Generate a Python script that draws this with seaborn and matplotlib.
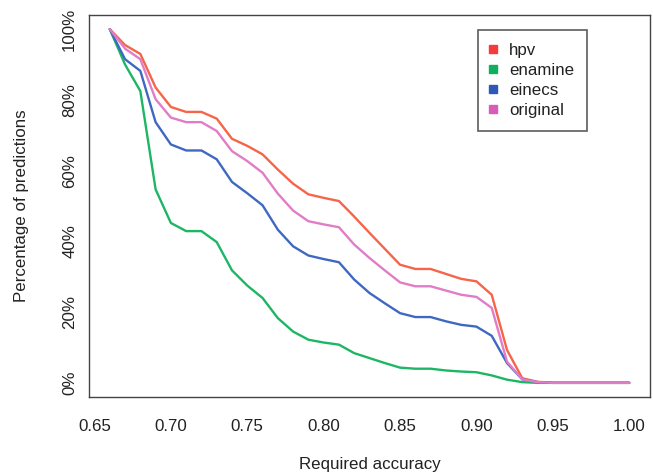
import matplotlib
matplotlib.use("Agg")
import matplotlib.pyplot as plt
from matplotlib.lines import Line2D
from matplotlib.ticker import PercentFormatter, FormatStrFormatter
import seaborn as sns
import pandas as pd

# Required accuracy thresholds (x axis)
accuracy = [0.66, 0.67, 0.68, 0.69, 0.70, 0.71, 0.72, 0.73, 0.74, 0.75,
            0.76, 0.77, 0.78, 0.79, 0.80, 0.81, 0.82, 0.83, 0.84, 0.85,
            0.86, 0.87, 0.88, 0.89, 0.90, 0.91, 0.92, 0.93, 0.94, 0.95,
            0.96, 0.97, 0.98, 0.99, 1.00]

# Percentage of predictions reaching that accuracy
hpv = [100, 95.5, 93, 83.5, 78, 76.6, 76.6, 74.7, 69, 67,
       64.6, 60.3, 56.3, 53.3, 52.3, 51.4, 47, 42.4, 37.9, 33.4,
       32.2, 32.2, 30.8, 29.4, 28.7, 24.9, 9.3, 1.3, 0.3, 0,
       0, 0, 0, 0, 0]
enamine = [100, 90, 82.5, 54.7, 45.2, 42.9, 42.9, 39.8, 31.8, 27.5,
           24, 18.3, 14.5, 12.2, 11.4, 10.8, 8.4, 7, 5.6, 4.3,
           4, 4, 3.5, 3.2, 3, 2.1, 0.9, 0.2, 0, 0,
           0, 0, 0, 0, 0]
einecs = [100, 91.5, 88.2, 73.7, 67.4, 65.7, 65.7, 63.2, 56.8, 53.6,
          50.2, 43.3, 38.6, 36, 35, 34.1, 29.2, 25.4, 22.5, 19.7,
          18.6, 18.6, 17.4, 16.4, 15.9, 13.3, 5.6, 1, 0.2, 0,
          0, 0, 0, 0, 0]
original = [100, 94.5, 91.5, 80.2, 75, 73.7, 73.7, 71.2, 65.5, 62.7,
            59.4, 53.5, 48.7, 45.7, 44.8, 44, 39.1, 35.3, 31.8, 28.4,
            27.3, 27.3, 26.1, 24.9, 24.3, 21.2, 6, 1, 0.2, 0,
            0, 0, 0, 0, 0]

series_names = ['hpv', 'enamine', 'einecs', 'original']
line_colors = {'hpv': '#F5654A', 'enamine': '#1DB665',
               'einecs': '#3F68C2', 'original': '#E17DC6'}
legend_colors = {'hpv': '#F43A3A', 'enamine': '#0EB060',
                 'einecs': '#2F57B8', 'original': '#D95CB8'}

xticks = [0.65, 0.70, 0.75, 0.80, 0.85, 0.90, 0.95, 1.00]
yticks = [0, 20, 40, 60, 80, 100]

# Long-form table for seaborn
frames = []
for name, vals in zip(series_names, [hpv, enamine, einecs, original]):
    frames.append(pd.DataFrame({'accuracy': accuracy, 'pct': vals, 'set': name}))
data = pd.concat(frames, ignore_index=True)

sns.set_style("white")
plt.rcParams['font.family'] = ['Liberation Sans', 'DejaVu Sans']
fs = 12.2

fig = plt.figure(figsize=(6.53, 4.75), dpi=100)
ax = fig.add_axes([89 / 653, 1 - 397 / 475, 561 / 653, 382 / 475])

sns.lineplot(data=data, x='accuracy', y='pct', hue='set', hue_order=series_names,
             palette=line_colors, linewidth=1.7, legend=False, ax=ax)

ax.set_xlim(0.6464, 1.0136)
ax.set_ylim(-4, 104)
ax.set_xticks(xticks)
ax.set_yticks(yticks)
ax.xaxis.set_major_formatter(FormatStrFormatter('%.2f'))
ax.yaxis.set_major_formatter(PercentFormatter(xmax=100, decimals=0))

for sp in ax.spines.values():
    sp.set_visible(True)
    sp.set_color('#444444')
    sp.set_linewidth(1.0)

ax.tick_params(axis='both', direction='out', length=7.5, width=1.0, color='#444444',
               labelsize=fs, labelcolor='#222222')
ax.tick_params(axis='x', pad=8)
ax.tick_params(axis='y', pad=1)
for lab in ax.get_yticklabels():
    lab.set_rotation(90)
    lab.set_va('center')

ax.set_xlabel('Required accuracy', fontsize=fs, color='#222222', labelpad=17)
ax.set_ylabel('Percentage of predictions', fontsize=fs, color='#222222', labelpad=24)

# Legend with square keys, R style
handles = [Line2D([0], [0], marker='s', linestyle='none', markersize=6,
                  markerfacecolor=legend_colors[n], markeredgecolor=legend_colors[n])
           for n in series_names]
leg = ax.legend(handles, series_names, loc='upper left',
                bbox_to_anchor=(478 / 653, 1 - 30 / 475), bbox_transform=fig.transFigure,
                borderaxespad=0, fancybox=False, frameon=True, fontsize=fs,
                handlelength=0.3, handletextpad=0.78, labelspacing=0.3,
                borderpad=0.75)
leg.get_frame().set_edgecolor('#333333')
leg.get_frame().set_linewidth(1.2)
for t in leg.get_texts():
    t.set_color('#222222')

fig.savefig('out.png', dpi=100)
